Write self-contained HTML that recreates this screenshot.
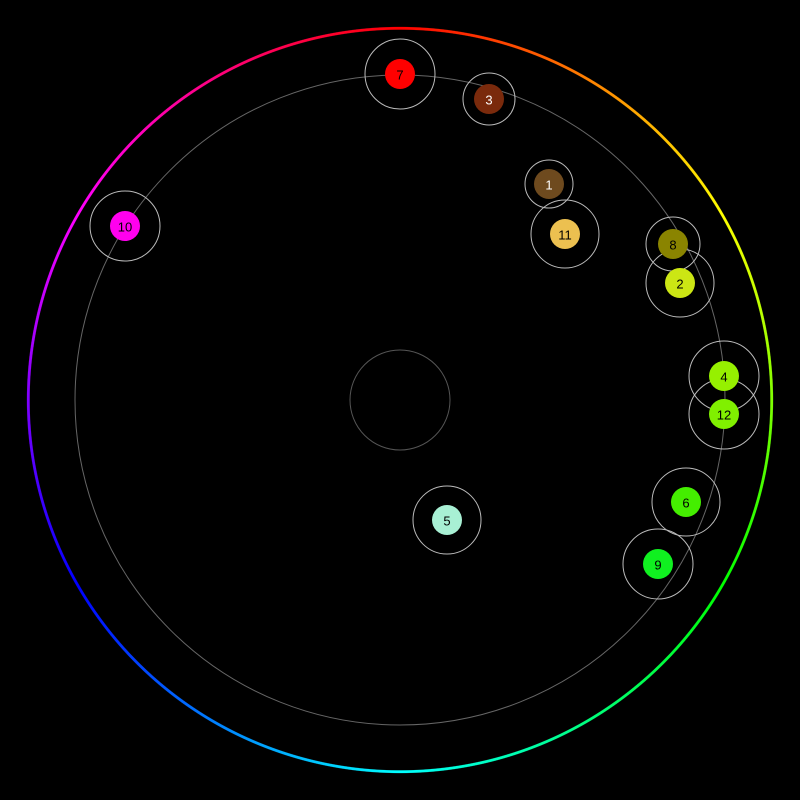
<!DOCTYPE html>
<html><head><style>
html,body{margin:0;padding:0;background:#000;width:800px;height:800px;overflow:hidden}
#ring{position:absolute;left:0;top:0;width:800px;height:800px;
background:conic-gradient(from 0deg at 400px 400px,#f00,#ff0 60deg,#0f0 120deg,#0ff 180deg,#00f 240deg,#f0f 300deg,#f00 360deg);
-webkit-mask:radial-gradient(circle at 400px 400px,transparent 370px,#000 370.6px,#000 372.8px,transparent 373.4px);
mask:radial-gradient(circle at 400px 400px,transparent 370px,#000 370.6px,#000 372.8px,transparent 373.4px);}
svg{position:absolute;left:0;top:0}
text{font-family:"Liberation Sans",sans-serif;font-size:13px;text-anchor:middle;dominant-baseline:central}
</style></head><body>
<div id="ring"></div>
<svg width="800" height="800">
<circle cx="400" cy="400" r="325" fill="none" stroke="#666" stroke-width="1"/>
<circle cx="400" cy="400" r="50" fill="none" stroke="#555" stroke-width="1"/>
<g stroke="#bbb" stroke-width="1" fill="none">
<circle cx="400" cy="74" r="35"/>
<circle cx="489" cy="99" r="26"/>
<circle cx="549" cy="184" r="24"/>
<circle cx="565" cy="234" r="34"/>
<circle cx="673" cy="244" r="27"/>
<circle cx="680" cy="283" r="34"/>
<circle cx="125" cy="226" r="35"/>
<circle cx="724" cy="376" r="35"/>
<circle cx="724" cy="414" r="35"/>
<circle cx="686" cy="502" r="34"/>
<circle cx="658" cy="564" r="35"/>
<circle cx="447" cy="520" r="34"/>
</g>
<circle cx="400" cy="74" r="15" fill="#ff0000"/><text x="400" y="75" fill="#000">7</text>
<circle cx="489" cy="99" r="15" fill="#7a2a0c"/><text x="489" y="100" fill="#fff">3</text>
<circle cx="549" cy="184" r="15" fill="#6e4a1e"/><text x="549" y="185" fill="#fff">1</text>
<circle cx="565" cy="234" r="15" fill="#ecc050"/><text x="565" y="235" fill="#000">11</text>
<circle cx="673" cy="244" r="15" fill="#8a8400"/><text x="673" y="245" fill="#000">8</text>
<circle cx="680" cy="283" r="15" fill="#cce614"/><text x="680" y="284" fill="#000">2</text>
<circle cx="125" cy="226" r="15" fill="#ff00ee"/><text x="125" y="227" fill="#000">10</text>
<circle cx="724" cy="376" r="15" fill="#96f000"/><text x="724" y="377" fill="#000">4</text>
<circle cx="724" cy="414" r="15" fill="#80f000"/><text x="724" y="415" fill="#000">12</text>
<circle cx="686" cy="502" r="15" fill="#44ee00"/><text x="686" y="503" fill="#000">6</text>
<circle cx="658" cy="564" r="15" fill="#10f020"/><text x="658" y="565" fill="#000">9</text>
<circle cx="447" cy="520" r="15" fill="#a8f0d4"/><text x="447" y="521" fill="#000">5</text>
</svg>
</body></html>
